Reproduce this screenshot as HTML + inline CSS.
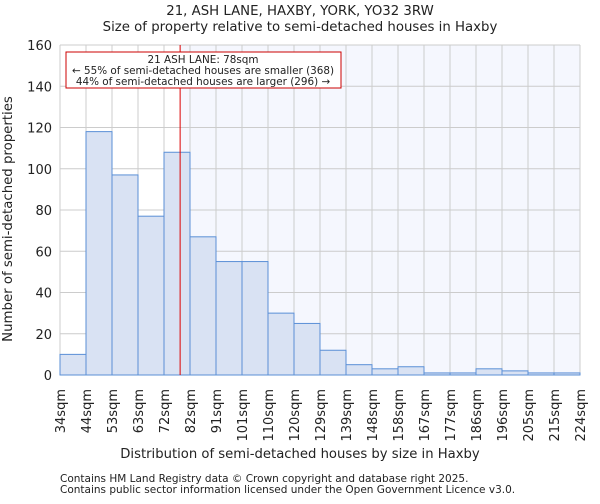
<!DOCTYPE html>
<html><head><meta charset="utf-8"><style>
body{margin:0;background:#fff;font-family:"DejaVu Sans","Liberation Sans",sans-serif;}
svg text{font-family:"DejaVu Sans","Liberation Sans",sans-serif;fill:#222;}
</style></head><body>
<svg id="chart" width="600" height="500">
<text x="300" y="15" font-size="13.3" text-anchor="middle">21, ASH LANE, HAXBY, YORK, YO32 3RW</text>
<text x="300" y="31" font-size="13.3" text-anchor="middle">Size of property relative to semi-detached houses in Haxby</text>
<g id="plot"></g>
<text x="300" y="458" font-size="13.2" text-anchor="middle">Distribution of semi-detached houses by size in Haxby</text>
<text transform="translate(12,219) rotate(-90)" font-size="13.3" text-anchor="middle">Number of semi-detached properties</text>
<text x="60" y="482" font-size="10.5">Contains HM Land Registry data © Crown copyright and database right 2025.</text>
<text x="60" y="493" font-size="10.5">Contains public sector information licensed under the Open Government Licence v3.0.</text>
</svg>
<script>
const binLabels=["34sqm","44sqm","53sqm","63sqm","72sqm","82sqm","91sqm","101sqm","110sqm","120sqm","129sqm","139sqm","148sqm","158sqm","167sqm","177sqm","186sqm","196sqm","205sqm","215sqm","224sqm"];
const counts=[10,118,97,77,108,67,55,55,30,25,12,5,3,4,1,1,3,2,1,1];
const yTicks=[0,20,40,60,80,100,120,140,160];
const markerIndex=4.62;
const ns="http://www.w3.org/2000/svg";
const L=60,R=580,T=45,B=375,yMax=160;
const bw=(R-L)/counts.length;
const x=i=>L+i*bw;
const y=v=>B-(v/yMax)*(B-T);
const g=document.getElementById('plot');
function mk(t,a){const e=document.createElementNS(ns,t);for(const k in a)e.setAttribute(k,a[k]);g.appendChild(e);return e;}
const mx=x(markerIndex);
let e=mk('rect',{x:mx,y:T,width:R-mx,height:B-T,fill:'#f5f7fe'});


yTicks.forEach(v=>{
 let l=mk('line',{x1:L,x2:R,y1:y(v),y2:y(v),stroke:'#cccccc','stroke-width':1});
 
 
 let t=mk('text',{x:L-8,y:y(v)+5,'font-size':13,'text-anchor':'end'});t.textContent=v;
 
 
});
binLabels.forEach((s,i)=>{
 let l=mk('line',{x1:x(i),x2:x(i),y1:T,y2:B,stroke:'#cccccc','stroke-width':1});
 
 
 let t=mk('text',{transform:`translate(${x(i)+5},${B+14}) rotate(-90)`,'font-size':13,'text-anchor':'end'});t.textContent=s;
 
 
});
counts.forEach((c,i)=>{
 let r=mk('rect',{x:x(i),y:y(c),width:bw,height:B-y(c),fill:'#d9e2f3',stroke:'#5a8fd6','stroke-width':1});
 
 
});
let ml=mk('line',{x1:mx,x2:mx,y1:T,y2:B,stroke:'#dd0000','stroke-width':1});


let box=mk('rect',{x:66,y:52,width:275,height:36,fill:'#fff',stroke:'#cc0000','stroke-width':1});


["21 ASH LANE: 78sqm","← 55% of semi-detached houses are smaller (368)","44% of semi-detached houses are larger (296) →"].forEach((s,i)=>{
 let t=mk('text',{x:203,y:63+i*11,'font-size':10.4,'text-anchor':'middle'});t.textContent=s;
 
 
});
</script>
</body></html>
